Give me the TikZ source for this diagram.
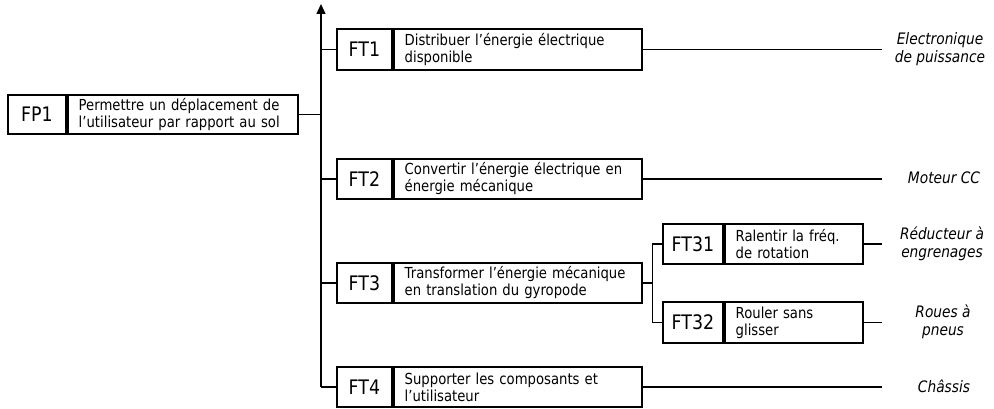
\documentclass[tikz,border=0pt]{standalone}
\usepackage{fontspec}
\setmainfont[FakeStretch=0.87]{DejaVu Sans}
\usetikzlibrary{arrows.meta,calc}
\begin{document}
\begin{tikzpicture}[x=1pt,y=-1pt,
  lab/.style={draw,line width=1.8pt,anchor=north west,inner sep=0pt,
    font=\fontsize{20}{22}\selectfont},
  txt/.style={draw,line width=1.8pt,anchor=north west,inner xsep=11pt,inner ysep=1pt,
    align=left,font=\fontsize{15.2}{17}\selectfont},
  res/.style={align=center,inner sep=0pt,font=\fontsize{15.8}{18}\selectfont\itshape},
  conn/.style={line width=1.3pt}]
\useasboundingbox (0,0) rectangle (994,409);
\fill[white] (0,0) rectangle (994,409);
% FP1
\node[lab,minimum width=58pt,minimum height=39pt] (fp1l) at (7,94) {FP1};
\node[txt,minimum height=39pt,text width=208pt] (fp1) at (fp1l.north east)
  {Permettre un déplacement de\\l’utilisateur par rapport au sol};
% FT boxes
\node[lab,minimum width=55pt,minimum height=41pt] (ft1l) at (336,28) {FT1};
\node[txt,minimum height=41pt,text width=226pt] (ft1) at (ft1l.north east)
  {Distribuer l’énergie électrique\\disponible};
\node[lab,minimum width=55pt,minimum height=40pt] (ft2l) at (336,158) {FT2};
\node[txt,minimum height=40pt,text width=226pt] (ft2) at (ft2l.north east)
  {Convertir l’énergie électrique en\\énergie mécanique};
\node[lab,minimum width=55pt,minimum height=40pt] (ft3l) at (336,262) {FT3};
\node[txt,minimum height=40pt,text width=226pt] (ft3) at (ft3l.north east)
  {Transformer l’énergie mécanique\\en translation du gyropode};
\node[lab,minimum width=55pt,minimum height=40pt] (ft4l) at (336,366) {FT4};
\node[txt,minimum height=40pt,text width=226pt] (ft4) at (ft4l.north east)
  {Supporter les composants et\\l’utilisateur};
\node[lab,minimum width=60pt,minimum height=40pt] (ft31l) at (662,223) {FT31};
\node[txt,minimum height=40pt,text width=116pt] (ft31) at (ft31l.north east)
  {Ralentir la fréq.\\de rotation};
\node[lab,minimum width=60pt,minimum height=41pt] (ft32l) at (662,301) {FT32};
\node[txt,minimum height=41pt,text width=116pt] (ft32) at (ft32l.north east)
  {Rouler sans\\glisser};
% results
\coordinate (endx) at (882,0);
\node[res] (r1) at (940,49) {Electronique\\de puissance};
\node[res] (r2) at (944,178) {Moteur CC};
\node[res] (r31) at (942,244) {Réducteur à\\engrenages};
\node[res] (r32) at (943,322) {Roues à\\pneus};
\node[res] (r4) at (944,386) {Châssis};
% spine
\coordinate (spinetop) at (321,4);
\coordinate (spinebot) at (ft4l.west -| spinetop);
\draw[conn,-{Triangle[width=9pt,length=10pt]}] (spinebot) -- (spinetop);
\draw[conn] (fp1.east) -- (fp1.east -| spinetop);
\draw[conn] (ft1l.west -| spinetop) -- (ft1l.west);
\draw[conn] (ft2l.west -| spinetop) -- (ft2l.west);
\draw[conn] (ft3l.west -| spinetop) -- (ft3l.west);
\draw[conn] (spinebot) -- (ft4l.west);
% FT3 branch
\coordinate (b3) at ($(ft3.east)+(10,0)$);
\draw[conn] (ft3.east) -- (b3);
\draw[conn] (ft31l.west) -| (b3) |- (ft32l.west);
% result connectors
\draw[conn] (ft1.east) -- (ft1.east -| endx);
\draw[conn] (ft2.east) -- (ft2.east -| endx);
\draw[conn] (ft31.east) -- (ft31.east -| endx);
\draw[conn] (ft32.east) -- (ft32.east -| endx);
\draw[conn] (ft4.east) -- (ft4.east -| endx);
\end{tikzpicture}
\end{document}
